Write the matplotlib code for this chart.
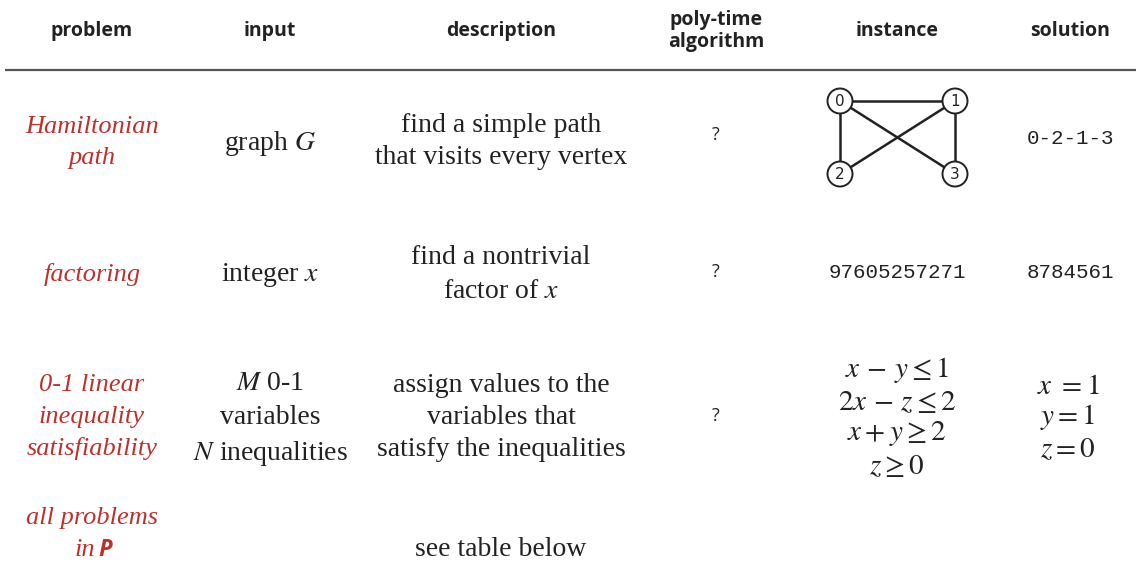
import matplotlib
matplotlib.use("Agg")
import matplotlib.pyplot as plt

plt.rcParams['mathtext.fontset'] = 'stix'

headers = ["problem", "input", "description", "poly-time\nalgorithm", "instance", "solution"]
problems = [["Hamiltonian", "path"], ["factoring"], ["0-1 linear", "inequality", "satisfiability"]]
inputs = [["graph $G$"], ["integer $x$"], ["$M$ 0-1", "variables", "$N$ inequalities"]]
descriptions = [["find a simple path", "that visits every vertex"],
                ["find a nontrivial", "factor of $x$"],
                ["assign values to the", "variables that", "satisfy the inequalities"]]
polytime = ["?", "?", "?"]
factor_instance = "97605257271"
ineq_instance = ["$x\\,-\\,y \\leq 1$", "$2x\\,-\\,z \\leq 2$", "$x + y \\geq 2$", "$z \\geq 0$"]
solutions_mono = ["0-2-1-3", "8784561"]
ineq_solution = ["$x\\ = 1$", "$y = 1$", "$z = 0$"]
last_problem = "all problems"
last_desc = "see table below"

graph_nodes = ["0", "1", "2", "3"]
graph_edges = [(0, 1), (0, 2), (0, 3), (1, 2), (1, 3)]

RED = '#c0302a'
TXT = '#222222'
W, H = 1139, 564
fig = plt.figure(figsize=(W / 100, H / 100), dpi=100)
ax = fig.add_axes([0, 0, 1, 1])
ax.set_xlim(0, W)
ax.set_ylim(H, 0)
ax.axis('off')

cols = [92, 270, 501, 716, 897, 1070]
hdr_kw = dict(family='Open Sans', fontweight='bold', fontsize=14, color=TXT,
              ha='center', va='center', linespacing=1.15)
for cx, h in zip(cols, headers):
    ax.text(cx, 31, h, **hdr_kw)
ax.plot([5, 1136], [70, 70], color='#555555', lw=1.6, solid_capstyle='butt')

serif = dict(family='Liberation Serif', fontsize=20, color=TXT, ha='center', va='center')
red = dict(family='Liberation Serif', style='italic', fontsize=19, color=RED,
           ha='center', va='center')
mono = dict(family='Liberation Mono', fontsize=15, color=TXT, ha='center', va='center')
q = dict(family='Open Sans', fontsize=13, color=TXT, ha='center', va='center')

def lines(x, ys, texts, kw, dy=2):
    for yy, t in zip(ys, texts):
        ax.text(x, yy + dy, t, **kw)

prob_y = [[125, 156], [273], [383, 415, 446]]
inp_y = [[141], [273], [381, 416, 452]]
desc_y = [[124, 156], [256, 290], [384, 416, 448]]
q_y = [135, 272, 416]
for i in range(3):
    lines(cols[0], prob_y[i], problems[i], red)
    lines(cols[1], inp_y[i], inputs[i], serif)
    lines(cols[2], desc_y[i], descriptions[i], serif)
    ax.text(cols[3], q_y[i], polytime[i], **q)

pos = {0: (840, 101), 1: (955, 101), 2: (840, 174), 3: (955, 174)}
for a, b in graph_edges:
    ax.plot([pos[a][0], pos[b][0]], [pos[a][1], pos[b][1]], color='#222222', lw=1.8, zorder=1)
for k, lab in enumerate(graph_nodes):
    x, y = pos[k]
    ax.add_patch(plt.Circle((x, y), 12.5, facecolor='white', edgecolor='#222222', lw=1.4, zorder=2))
    ax.text(x, y + 0.5, lab, family='DejaVu Sans', fontsize=11, color=TXT,
            ha='center', va='center', zorder=3)

ax.text(cols[5], 139, solutions_mono[0], **mono)
ax.text(cols[4], 272, factor_instance, **mono)
ax.text(cols[5], 272, solutions_mono[1], **mono)

for j, s in enumerate(ineq_instance):
    ax.text(cols[4], 370 + 32 * j, s, fontsize=21, color=TXT, ha='center', va='center')
for j, s in enumerate(ineq_solution):
    ax.text(cols[5] - 2, 386 + 31.5 * j, s, fontsize=21, color=TXT, ha='center', va='center')

lines(cols[0], [516], [last_problem], red)
ax.text(95, 550, "in", family='Liberation Serif', style='italic', fontsize=19,
        color=RED, ha='right', va='center')
ax.text(98, 550, "P", family='Open Sans', style='italic', fontweight='bold',
        fontsize=17, color=RED, ha='left', va='center')
ax.text(cols[2], 550, last_desc, **serif)

fig.savefig('out.png', dpi=100)
